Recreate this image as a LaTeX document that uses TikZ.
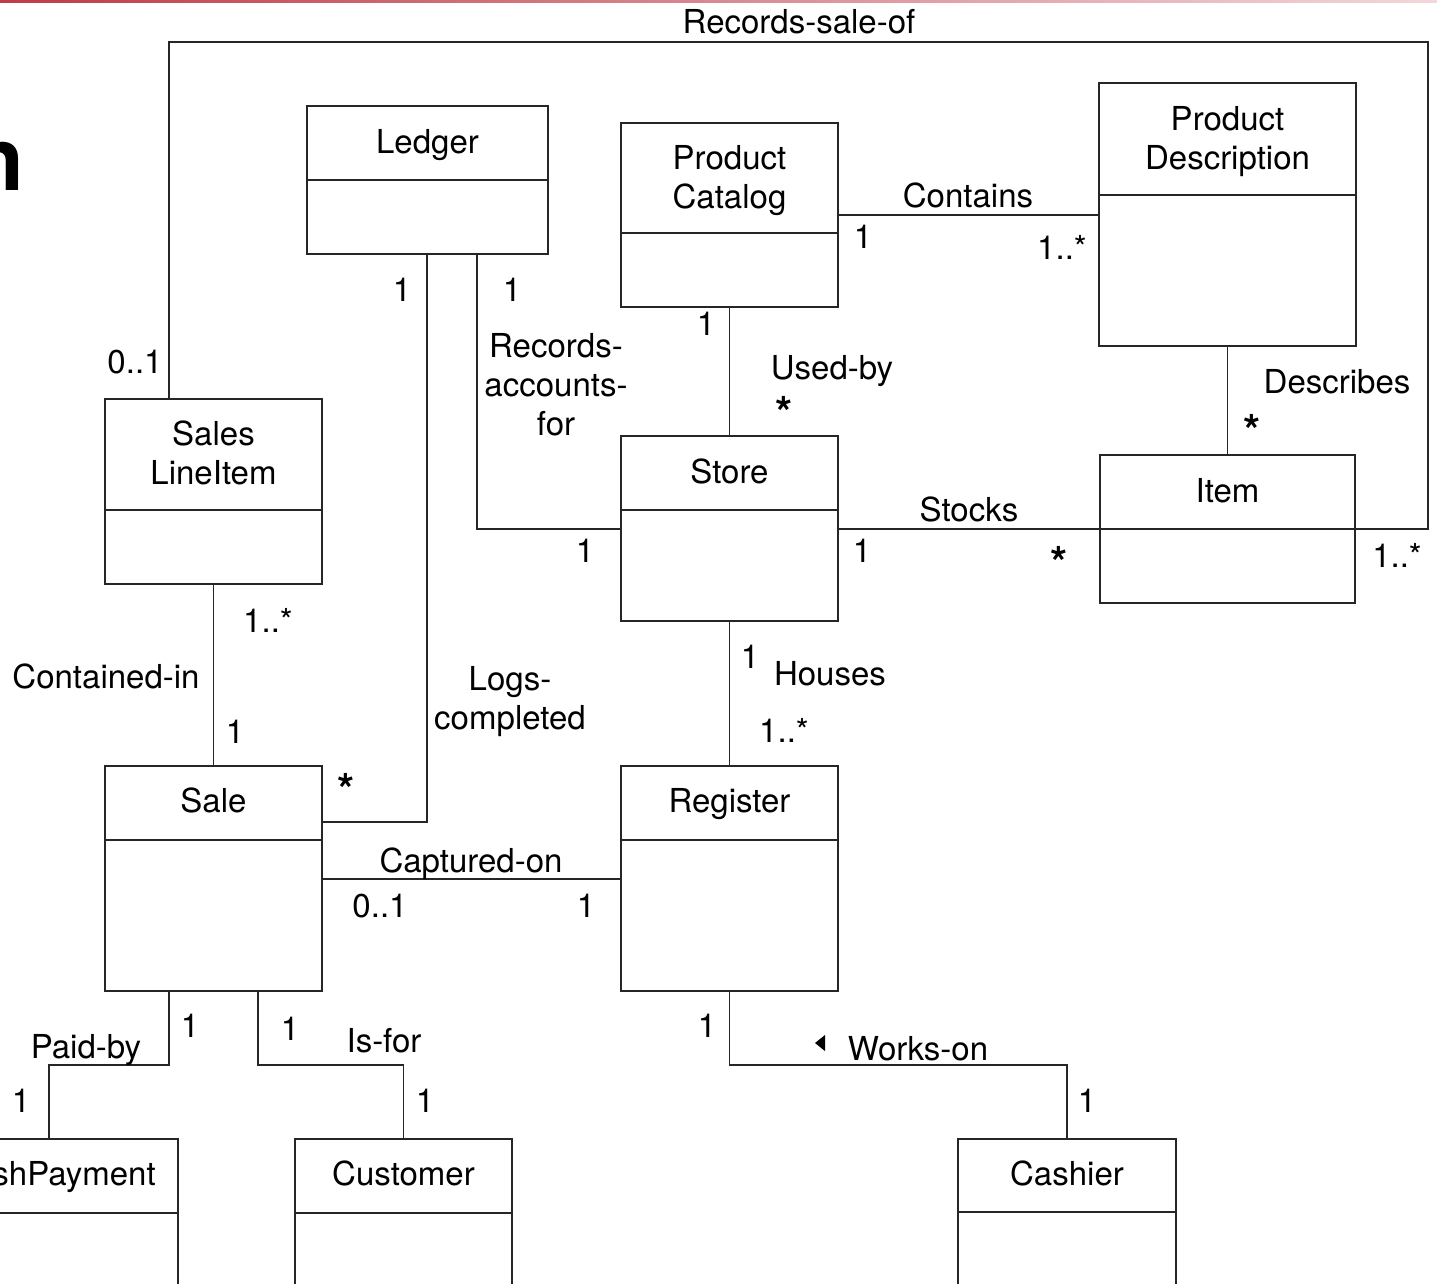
\documentclass[tikz,border=0pt]{standalone}
\usepackage{fontspec}
\setmainfont{TeX Gyre Heros}
\tikzset{
  ln/.style={line width=1.2pt, draw=black!85},
  box/.style={ln, rectangle, inner sep=0pt},
  lbl/.style={font=\fontsize{33}{39}\selectfont, inner sep=0pt, anchor=base, align=center},
  starlbl/.style={font=\bfseries\fontsize{44}{44}\selectfont, inner sep=0pt, anchor=base},
}
% #1 name, #2 x1, #3 y1, #4 x2, #5 y2, #6 divider y, #7 baseline of last title line, #8 title
\newcommand\umlbox[8]{%
  \node[box, minimum width={#4-#2}, minimum height={#5-#3}] (#1) at ({(#2+#4)/2},{(#3+#5)/2}) {};
  \draw[ln] (#1.west |- 0,#6) -- (#1.east |- 0,#6);
  \node[lbl] (#1-t) at ({(#2+#4)/2},#7) {#8};
}
\begin{document}
\begin{tikzpicture}[x=1pt,y=-1pt]
\useasboundingbox (0,0) rectangle (1437,1283);
\fill[white] (0,0) rectangle (1437,1283);
% top red rule
\shade[left color={rgb,255:red,190;green,60;blue,72}, right color={rgb,255:red,242;green,215;blue,218}] (0,0) rectangle (1437,2.5);
% clipped title letter
\node[font=\bfseries\fontsize{88}{88}\selectfont, inner sep=0pt, anchor=base east] (ttl) at (24,190) {n};

% classes
\umlbox{ledger}{307}{106}{548}{254}{180}{153}{Ledger}
\umlbox{pc}{621}{123}{838}{307}{233}{208}{Product\\Catalog}
\umlbox{pd}{1099}{83}{1356}{346}{195}{169}{Product\\Description}
\umlbox{sli}{105}{399}{322}{584}{510}{484}{Sales\\LineItem}
\umlbox{store}{621}{436}{838}{621}{510}{483}{Store}
\umlbox{item}{1100}{455}{1355}{603}{529}{502}{Item}
\umlbox{sale}{105}{766}{322}{991}{840}{812}{Sale}
\umlbox{register}{621}{766}{838}{991}{840}{812}{Register}
\umlbox{cp}{-72}{1139}{178}{1400}{1213}{1185}{CashPayment}
\umlbox{cust}{295}{1139}{512}{1400}{1213}{1185}{Customer}
\umlbox{cashier}{958}{1139}{1176}{1400}{1212}{1185}{Cashier}

% connectors
\draw[ln] (sli.north -| 169,0) -- (169,42) -- (1428,42) -- (1428,529) -- (item.east |- 0,529);
\draw[ln] (ledger.south -| 427,0) |- (sale.east |- 0,822);
\draw[ln] (ledger.south -| 477,0) |- (store.west |- 0,529);
\draw[ln] (pc.east |- 0,215) -- (pd.west |- 0,215);
\draw[ln] (pc.south) -- (store.north);
\draw[ln] (pd.south) -- (item.north);
\draw[ln] (store.east |- 0,529) -- (item.west |- 0,529);
\draw[ln] (store.south) -- (register.north);
\draw[ln] (sli.south) -- (sale.north);
\draw[ln] (sale.east |- 0,879) -- (register.west |- 0,879);
\draw[ln] (sale.south -| 169,0) -- (169,1065) -| (cp.north -| 49,0);
\draw[ln] (sale.south -| 258,0) -- (258,1065) -| (cust.north);
\draw[ln] (register.south) -- (729.5,1065) -| (cashier.north);

% association labels
\node[lbl] (l-rso) at (799,33) {Records-sale-of};
\node[lbl] (l-rso1) at (135,373) {0..1};
\node[lbl] (l-rso2) at (1397,567) {1..*};
\node[lbl] (l-led1) at (402,301) {1};
\node[lbl] (l-led2) at (512,301) {1};
\node[lbl] (l-raf) at (556,435) {Records-\\accounts-\\for};
\node[lbl] (l-st1) at (585,562) {1};
\node[lbl] (l-cont) at (968,207) {Contains};
\node[lbl] (l-cont1) at (863,248) {1};
\node[lbl] (l-cont2) at (1062,259) {1..*};
\node[lbl] (l-ub1) at (706,335) {1};
\node[lbl] (l-ub) at (832,379) {Used-by};
\node[starlbl] (l-ub2) at (784,428) {*};
\node[lbl] (l-desc) at (1337,393) {Describes};
\node[starlbl] (l-desc2) at (1252,446) {*};
\node[lbl] (l-stk) at (969,521) {Stocks};
\node[lbl] (l-stk1) at (862,562) {1};
\node[starlbl] (l-stk2) at (1059,578) {*};
\node[lbl] (l-hs1) at (750,668) {1};
\node[lbl] (l-hs) at (830,685) {Houses};
\node[lbl] (l-hs2) at (784,742) {1..*};
\node[lbl] (l-ci1) at (268,632) {1..*};
\node[lbl] (l-ci) at (106,688) {Contained-in};
\node[lbl] (l-ci2) at (235,743) {1};
\node[starlbl] (l-lc2) at (346,805) {*};
\node[lbl] (l-lc) at (510,729) {Logs-\\completed};
\node[lbl] (l-co) at (471,872) {Captured-on};
\node[lbl] (l-co1) at (380,917) {0..1};
\node[lbl] (l-co2) at (586,917) {1};
\node[lbl] (l-pb1) at (190,1037) {1};
\node[lbl] (l-pb) at (86,1058) {Paid-by};
\node[lbl] (l-pb2) at (21,1112) {1};
\node[lbl] (l-if1) at (290,1040) {1};
\node[lbl] (l-if) at (384,1052) {Is-for};
\node[lbl] (l-if2) at (425,1112) {1};
\node[lbl] (l-wo1) at (707,1037) {1};
\fill[black] (815,1043) -- (825,1035) -- (825,1051) -- cycle;
\node[lbl] (l-wo) at (918,1060) {Works-on};
\node[lbl] (l-wo2) at (1087,1112) {1};
\end{tikzpicture}
\end{document}
